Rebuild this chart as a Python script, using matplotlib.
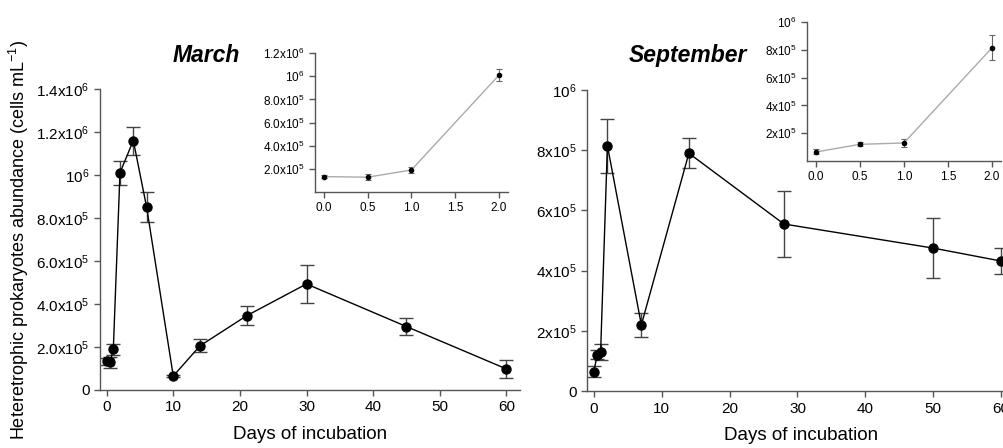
import matplotlib
matplotlib.use("Agg")
import matplotlib.pyplot as plt

plt.rcParams['font.family'] = ['Liberation Sans', 'DejaVu Sans']
plt.rcParams['mathtext.fontset'] = 'custom'
plt.rcParams['mathtext.rm'] = 'Liberation Sans'
plt.rcParams['mathtext.it'] = 'Liberation Sans:italic'

# March
mar_days = [0, 0.5, 1, 2, 4, 6, 10, 14, 21, 30, 45, 60]
mar_vals = [1.33e5, 1.28e5, 1.9e5, 1.01e6, 1.16e6, 8.5e5, 6.5e4, 2.05e5, 3.45e5, 4.93e5, 2.95e5, 9.8e4]
mar_err = [1.5e4, 2.5e4, 2.5e4, 5.5e4, 6.5e4, 7e4, 5e3, 3e4, 4.5e4, 9e4, 4e4, 4e4]

# September
sep_days = [0, 0.5, 1, 2, 7, 14, 28, 50, 60]
sep_vals = [6.5e4, 1.2e5, 1.3e5, 8.15e5, 2.2e5, 7.9e5, 5.55e5, 4.75e5, 4.32e5]
sep_err = [1.8e4, 1.5e4, 2.8e4, 9e4, 4e4, 5e4, 1.1e5, 1e5, 4.3e4]

mar_ticks = [0, 2e5, 4e5, 6e5, 8e5, 1e6, 1.2e6, 1.4e6]
mar_labels = ['0', r'2.0x10$^5$', r'4.0x10$^5$', r'6.0x10$^5$', r'8.0x10$^5$',
              r'10$^6$', r'1.2x10$^6$', r'1.4x10$^6$']
sep_ticks = [0, 2e5, 4e5, 6e5, 8e5, 1e6]
sep_labels = ['0', r'2x10$^5$', r'4x10$^5$', r'6x10$^5$', r'8x10$^5$', r'10$^6$']

fig = plt.figure(figsize=(10.04, 4.48), dpi=100)


def style(ax, fs):
    for s in ['top', 'right']:
        ax.spines[s].set_visible(False)
    for s in ['left', 'bottom']:
        ax.spines[s].set_color('#555555')
        ax.spines[s].set_linewidth(1.0)
    ax.tick_params(direction='out', length=4, width=1, color='#555555', labelsize=fs)


def main_panel(rect, days, vals, err, ticks, labels, ylim, title, title_x):
    ax = fig.add_axes(rect)
    ax.errorbar(days, vals, yerr=err, color='black', marker='o', markersize=6.5,
                lw=1, ecolor='#444444', elinewidth=1, capsize=5, capthick=1)
    ax.set_xlim(-1, 62)
    ax.set_ylim(*ylim)
    ax.set_xticks([0, 10, 20, 30, 40, 50, 60])
    ax.set_yticks(ticks)
    ax.set_yticklabels(labels)
    style(ax, 11)
    ax.set_xlabel('Days of incubation', fontsize=13.5, labelpad=8)
    fig.text(title_x, 0.877, title, fontsize=16.5, fontweight='bold', style='italic',
             ha='center', va='center')
    return ax


def inset(rect, days, vals, err, ticks, labels, ylim):
    ax = fig.add_axes(rect)
    ax.errorbar(days, vals, yerr=err, color='#aaaaaa', marker='o', markersize=3,
                mfc='black', mec='black', lw=1, ecolor='#666666', elinewidth=0.8,
                capsize=2.5, capthick=0.8)
    ax.set_xlim(-0.1, 2.1)
    ax.set_ylim(*ylim)
    ax.set_xticks([0, 0.5, 1.0, 1.5, 2.0])
    ax.set_xticklabels(['0.0', '0.5', '1.0', '1.5', '2.0'])
    ax.set_yticks(ticks)
    ax.set_yticklabels(labels)
    style(ax, 8.5)
    ax.patch.set_alpha(0)
    return ax


ax1 = main_panel([0.0996, 0.1295, 0.418, 0.672], mar_days, mar_vals, mar_err,
                 mar_ticks, mar_labels, (0, 1.4e6), 'March', 0.205)
fig.text(0.019, 0.465, r'Heteretrophic prokaryotes abundance (cells mL$^{-1}$)',
         fontsize=13, rotation=90, ha='center', va='center')

ax2 = main_panel([0.5847, 0.127, 0.426, 0.672], sep_days, sep_vals, sep_err,
                 sep_ticks, sep_labels, (0, 1e6), 'September', 0.685)

inset([0.3137, 0.5714, 0.192, 0.31], mar_days[:4], mar_vals[:4], mar_err[:4],
      mar_ticks[1:7], mar_labels[1:7], (0, 1.2e6))
inset([0.8038, 0.6406, 0.193, 0.31], sep_days[:4], sep_vals[:4], sep_err[:4],
      sep_ticks[1:], sep_labels[1:], (0, 1e6))

fig.savefig('out.png', dpi=100)
